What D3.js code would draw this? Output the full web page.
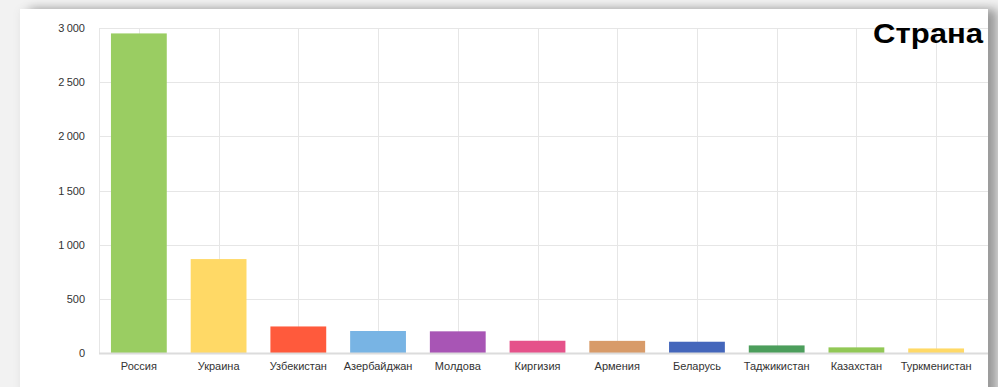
<!DOCTYPE html>
<html><head><meta charset="utf-8">
<script src="https://cdn.jsdelivr.net/npm/d3@7"></script>
<style>
html,body{margin:0;padding:0;width:998px;height:387px;overflow:hidden;background:#f2f2f2;}
#card{position:absolute;left:20px;top:9px;width:968px;height:420px;background:#fff;
box-shadow:0 0 10px rgba(0,0,0,0.05), 10px 0 10px rgba(0,0,0,0.35);}
svg{position:absolute;left:0;top:0;}
</style></head><body>
<div id="card"></div>
<svg id="chart" width="998" height="387"></svg>
<script>
const categories = ["Россия","Украина","Узбекистан","Азербайджан","Молдова","Киргизия","Армения","Беларусь","Таджикистан","Казахстан","Туркменистан"];
const values = [2950, 867, 245, 203, 200, 113, 112, 104, 70, 52, 42];
const colors = ["#9acd62","#ffd966","#ff5a3c","#78b4e4","#a855b5","#e5528a","#d89b69","#4466bb","#4c9e5c","#92c856","#ffd966"];
const yTicks = [0, 500, 1000, 1500, 2000, 2500, 3000];
const title = "Страна";

(function(){
const svg = d3.select("#chart");
const pL = 99, pR = 976, pT = 28, pB = 353, gridRight = 988;
const x = d3.scaleBand().domain(categories).range([pL, pR]).paddingInner(0.3).paddingOuter(0.15);
const y = d3.scaleLinear().domain([0, 3000]).range([pB, pT]);
const fmt = v => d3.format(",")(v).replace(/,/g, "\u202f");

svg.append("g").selectAll("line").data(yTicks).join("line")
  .attr("x1", pL).attr("x2", gridRight)
  .attr("y1", d => Math.round(y(d)) + 0.5).attr("y2", d => Math.round(y(d)) + 0.5)
  .attr("stroke", "#e6e6e6").attr("stroke-width", 1);
svg.append("g").selectAll("line").data(categories).join("line")
  .attr("x1", d => Math.round(x(d) + x.bandwidth()/2) + 0.5)
  .attr("x2", d => Math.round(x(d) + x.bandwidth()/2) + 0.5)
  .attr("y1", pT).attr("y2", pB)
  .attr("stroke", "#e6e6e6");
svg.append("line").attr("x1", pL + 0.5).attr("x2", pL + 0.5).attr("y1", pT).attr("y2", pB)
  .attr("stroke", "#e6e6e6");

svg.append("g").selectAll("rect").data(categories).join("rect")
  .attr("x", d => x(d)).attr("width", x.bandwidth())
  .attr("y", (d, i) => y(values[i])).attr("height", (d, i) => y(0) - y(values[i]))
  .attr("fill", (d, i) => colors[i]);

svg.append("line").attr("x1", pL).attr("x2", gridRight).attr("y1", pB + 0.5).attr("y2", pB + 0.5)
  .attr("stroke", "#dcdcdc").attr("stroke-width", 2);

const yAxis = d3.axisLeft(y).tickValues(yTicks).tickFormat(fmt).tickSize(0).tickPadding(0);
const gy = svg.append("g").attr("transform", "translate(85,0)").call(yAxis);
gy.select(".domain").remove();
gy.selectAll("text").attr("font-family", "Liberation Sans, Arial, sans-serif").attr("font-size", 11).attr("fill", "#333");

const xAxis = d3.axisBottom(x).tickSize(0).tickPadding(0);
const gx = svg.append("g").attr("transform", `translate(0,${pB + 9})`).call(xAxis);
gx.select(".domain").remove();
gx.selectAll("text").attr("font-family", "Liberation Sans, Arial, sans-serif").attr("font-size", 11).attr("fill", "#333");

svg.append("text").attr("x", 983).attr("y", 43).attr("text-anchor", "end")
  .attr("font-family", "Liberation Sans, Arial, sans-serif").attr("font-weight", "bold")
  .attr("font-size", 28).attr("textLength", 110).attr("lengthAdjust", "spacingAndGlyphs")
  .attr("fill", "#000").text(title);
})();
</script>
</body></html>
